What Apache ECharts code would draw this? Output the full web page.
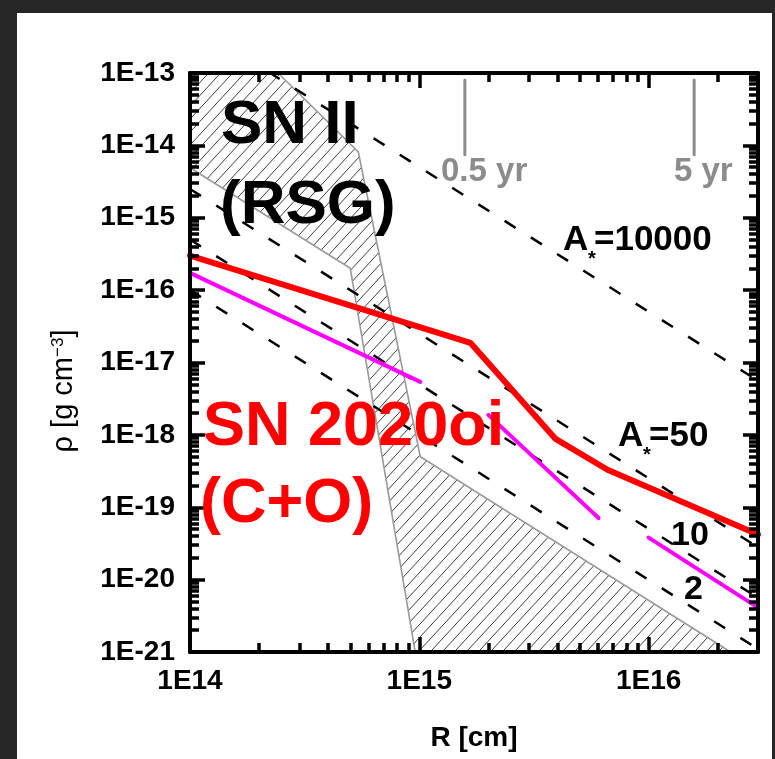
<!DOCTYPE html>
<html><head><meta charset="utf-8">
<script src="https://cdn.jsdelivr.net/npm/echarts@6.0.0/dist/echarts.min.js"></script>
<style>
html,body{margin:0;padding:0;background:#262626;width:775px;height:759px;overflow:hidden;}
#paper{position:absolute;left:17px;top:13px;width:755px;height:746px;background:#fff;}
#chart{position:absolute;left:0;top:0;width:775px;height:759px;}
</style></head>
<body>
<div id="paper"></div>
<div id="chart"></div>
<script>
// ---- data ----
const xTickValues = [1e14, 1e15, 1e16];
const xTickLabels = ['1E14', '1E15', '1E16'];
const yTickValues = [1e-21, 1e-20, 1e-19, 1e-18, 1e-17, 1e-16, 1e-15, 1e-14, 1e-13];
const yTickLabels = ['1E-21', '1E-20', '1E-19', '1E-18', '1E-17', '1E-16', '1E-15', '1E-14', '1E-13'];

// hatched SN II (RSG) region, vertices
const rsgRegionR   = [1e14, 2.42e14, 5.42e14, 1.01e15, 2.28e16, 9.6e14, 5.0e14, 1e14];
const rsgRegionRho = [1e-13, 1e-13, 8.1e-15, 5.0e-19, 1e-21, 1e-21, 2.0e-16, 4.9e-15];

// dashed wind lines (A* = 10000, 50, 10, 2), endpoints
const windR = [1e14, 3e16];
const windA10000 = [5e-13, 5.6e-18];
const windA50 = [2.5e-15, 2.8e-20];
const windA10 = [5e-16, 5.6e-21];
const windA2 = [1e-16, 1.1e-21];

// SN 2020oi (red)
const sn2020oiR   = [1e14, 1.67e15, 3.93e15, 6.62e15, 3e16];
const sn2020oiRho = [3.0e-16, 1.87e-17, 8.8e-19, 3.3e-19, 4.2e-20];

// magenta segments
const seg1R = [1e14, 1.01e15];  const seg1Rho = [1.73e-16, 5.4e-18];
const seg2R = [2.0e15, 6.05e15]; const seg2Rho = [1.89e-18, 7.1e-20];
const seg3R = [1e16, 3e16];     const seg3Rho = [3.8e-20, 4.1e-21];

// time markers (0.5 yr, 5 yr)
const yearR = [1.58e15, 1.58e16];
const yearRhoSpan = [8e-14, 7.4e-15];

// ---- helpers ----
const FONT = '"Liberation Sans", Arial, Helvetica, sans-serif';
const xMin = 1e14, xMax = 3e16, yMin = 1e-21, yMax = 1e-13;
function minorTicks(majors, lo, hi) {
  const out = [];
  majors.forEach(d => { for (let k = 2; k <= 9; k++) { const v = Number((k * d).toPrecision(3)); if (v > lo && v < hi) out.push(v); } });
  return out;
}
const xMinor = minorTicks(xTickValues, xMin, xMax);
const yMinor = minorTicks(yTickValues, yMin, yMax);
const lookup = (vals, labels) => v => labels[vals.findIndex(t => Math.abs(Math.log10(t) - Math.log10(v)) < 1e-6)] || '';
const pair = (a, b) => a.map((v, i) => [v, b[i]]);

// kind: 'line' (axis line + labels), 'major' ticks, 'minor' ticks
function ax(isX, pos, kind, labels) {
  const a = {
    type: 'log', logBase: 10, position: pos, z: 10,
    min: isX ? xMin : yMin, max: isX ? xMax : yMax,
    axisLine: { show: kind === 'line', onZero: false, lineStyle: { color: '#000', width: 4 } },
    axisTick: kind === 'line' ? { show: false } : { show: true, inside: true, length: kind === 'major' ? 15 : 9,
      lineStyle: { color: '#000', width: 3.5 },
      customValues: kind === 'major' ? (isX ? xTickValues : yTickValues) : (isX ? xMinor : yMinor) },
    axisLabel: labels ? { show: true, customValues: isX ? xTickValues : yTickValues,
      formatter: lookup(isX ? xTickValues : yTickValues, isX ? xTickLabels : yTickLabels),
      margin: 15, color: '#000', fontSize: 28, fontWeight: 'bold', fontFamily: FONT } : { show: false },
    splitLine: { show: false }
  };
  if (labels && isX) {
    a.name = 'R [cm]'; a.nameLocation = 'middle'; a.nameGap = 72;
    a.nameTextStyle = { color: '#000', fontSize: 28, fontWeight: 'bold', fontFamily: FONT };
  }
  return a;
}

// hatch pattern
const hatch = document.createElement('canvas');
hatch.width = 12; hatch.height = 13;
const hc = hatch.getContext('2d');
hc.strokeStyle = '#3c3c3c'; hc.lineWidth = 1;
[-1, 0, 1].forEach(k => { hc.beginPath(); hc.moveTo(k * 12, 13); hc.lineTo(k * 12 + 12, 0); hc.stroke(); });

function dashed(data) {
  return { type: 'line', data: data, xAxisIndex: 0, yAxisIndex: 0, symbol: 'none', z: 3, silent: true,
    lineStyle: { color: '#000', width: 2.5, type: [13, 18] } };
}
function solid(data, color, width, z) {
  return { type: 'line', data: data, xAxisIndex: 0, yAxisIndex: 0, symbol: 'none', z: z, silent: true,
    lineStyle: { color: color, width: width, cap: 'round', join: 'round' } };
}
function txt(x, y, s, size, color) {
  return { type: 'text', x: x, y: y, z: 100, silent: true,
    style: { text: s, fill: color, font: 'bold ' + size + 'px ' + FONT, align: 'left', verticalAlign: 'middle',
      textAlign: 'left', textVerticalAlign: 'middle' } };
}

const chart = echarts.init(document.getElementById('chart'), null, { renderer: 'canvas' });
chart.setOption({
  animation: false,
  grid: { left: 190, top: 73, right: 17, bottom: 107, containLabel: false },
  xAxis: [ax(true, 'bottom', 'line', true), ax(true, 'bottom', 'major'), ax(true, 'bottom', 'minor'),
          ax(true, 'top', 'line'), ax(true, 'top', 'major'), ax(true, 'top', 'minor')],
  yAxis: [ax(false, 'left', 'line', true), ax(false, 'left', 'major'), ax(false, 'left', 'minor'),
          ax(false, 'right', 'line'), ax(false, 'right', 'major'), ax(false, 'right', 'minor')],
  series: [
    { type: 'custom', coordinateSystem: 'cartesian2d', xAxisIndex: 0, yAxisIndex: 0, z: 1, silent: true,
      data: [[rsgRegionR[0], rsgRegionRho[0]]],
      renderItem: function (params, api) {
        const pts = rsgRegionR.map((r, i) => api.coord([r, rsgRegionRho[i]]));
        return { type: 'polygon', shape: { points: pts },
          style: { fill: { image: hatch, repeat: 'repeat' }, stroke: '#9a9a9a', lineWidth: 1.6 } };
      } },
    dashed(pair(windR, windA10000)),
    dashed(pair(windR, windA50)),
    dashed(pair(windR, windA10)),
    dashed(pair(windR, windA2)),
    solid([[yearR[0], yearRhoSpan[0]], [yearR[0], yearRhoSpan[1]]], '#8c8c8c', 3, 4),
    solid([[yearR[1], yearRhoSpan[0]], [yearR[1], yearRhoSpan[1]]], '#8c8c8c', 3, 4),
    solid(pair(seg1R, seg1Rho), '#ff00ff', 4, 5),
    solid(pair(seg2R, seg2Rho), '#ff00ff', 4, 5),
    solid(pair(seg3R, seg3Rho), '#ff00ff', 4, 5),
    solid(pair(sn2020oiR, sn2020oiRho), '#ff0000', 6, 6)
  ],
  graphic: [
    txt(221, 126, 'SN II', 62, '#000'),
    txt(220, 206, '(RSG)', 62, '#000'),
    txt(203, 428, 'SN 2020oi', 63, '#ff0000'),
    txt(200, 505, '(C+O)', 63, '#ff0000'),
    txt(441, 172, '0.5 yr', 33, '#8c8c8c'),
    txt(674, 172, '5 yr', 33, '#8c8c8c'),
    txt(563, 240, 'A', 35, '#000'),
    txt(588, 259, '*', 20, '#000'),
    txt(594, 240, '=10000', 35, '#000'),
    txt(618, 436, 'A', 35, '#000'),
    txt(643, 455, '*', 20, '#000'),
    txt(649, 436, '=50', 35, '#000'),
    txt(671, 536, '10', 34, '#000'),
    txt(684, 590, '2', 34, '#000'),
    { type: 'text', x: 64, y: 391, rotation: Math.PI / 2, z: 100, silent: true,
      style: { text: 'ρ [g cm{sup|−3}]', fill: '#000', font: '29px ' + FONT,
        align: 'center', verticalAlign: 'middle', textAlign: 'center', textVerticalAlign: 'middle',
        rich: { sup: { fontSize: 17, fontFamily: FONT, fill: '#000', verticalAlign: 'top' } } } }
  ]
});
</script>
</body></html>
